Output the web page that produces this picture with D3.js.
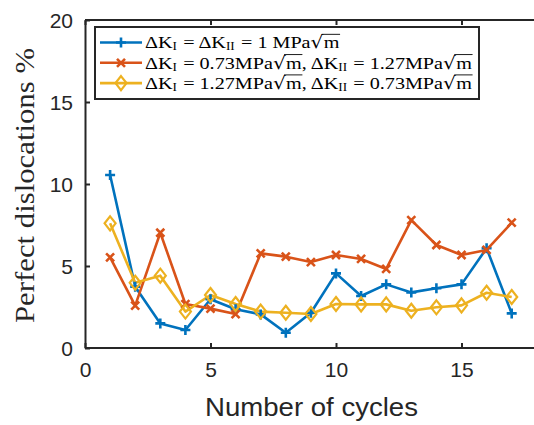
<!DOCTYPE html>
<html><head><meta charset="utf-8">
<script src="https://cdn.jsdelivr.net/npm/d3@7"></script>
<style>body{margin:0;background:#fff}svg{display:block}</style>
</head><body>
<svg id="c" width="534" height="425"></svg>
<script>
const cycles = [1,2,3,4,5,6,7,8,9,10,11,12,13,14,15,16,17];
const equalK = [10.55,3.74,1.5,1.1,2.97,2.36,2.05,0.93,2.15,4.55,3.17,3.88,3.39,3.64,3.88,6.08,2.11];
const lowKI = [5.53,2.58,7.03,2.68,2.4,2.07,5.77,5.57,5.24,5.67,5.43,4.82,7.8,6.28,5.67,5.98,7.64];
const highKI = [7.6,3.98,4.41,2.22,3.23,2.68,2.22,2.15,2.07,2.68,2.66,2.66,2.27,2.48,2.6,3.37,3.11];
const xTicks = [0,5,10,15];
const yTicks = [0,5,10,15,20];
const colors = ["#0072BD","#D95319","#EDB120"];

const svg = d3.select("#c");
const x = d3.scaleLinear().domain([0,20]).range([85,587]);
const y = d3.scaleLinear().domain([0,20]).range([348,20]);
const axisCol = "#262626";
const tickFont = "Liberation Sans, Arial, sans-serif";

// axes
const gx = svg.append("g").attr("transform","translate(0,348)")
  .call(d3.axisBottom(x).tickValues(xTicks).tickSize(-5).tickPadding(10).tickSizeOuter(0));
const gxt = svg.append("g").attr("transform","translate(0,20)")
  .call(d3.axisTop(x).tickValues(xTicks).tickSize(-5).tickFormat("").tickSizeOuter(0));
const gy = svg.append("g").attr("transform","translate(85,0)")
  .call(d3.axisLeft(y).tickValues(yTicks).tickSize(-5).tickPadding(12).tickSizeOuter(0));
[gx,gxt,gy].forEach(g=>{
  g.select(".domain").attr("stroke",axisCol).attr("stroke-width",2);
  g.selectAll(".tick line").attr("stroke",axisCol).attr("stroke-width",2);
  g.selectAll("text").attr("fill",axisCol).style("font-family",tickFont).style("font-size","21px");
});
gx.select(".domain").attr("d","M85,0H534");
gxt.select(".domain").attr("d","M85,0H534");
gx.selectAll("text").attr("dy","0.9em");
gy.selectAll("text").attr("dy","0.36em");

// series
const series = [equalK, lowKI, highKI];
const line = d3.line().x((d,i)=>x(cycles[i])).y(d=>y(d));
series.forEach((s,k)=>{
  svg.append("path").datum(s).attr("d",line).attr("fill","none")
    .attr("stroke",colors[k]).attr("stroke-width",2.6).attr("stroke-linejoin","round");
});
function marker(g,k,cx,cy){
  const c = colors[k];
  if(k===0){
    g.append("path").attr("d",`M${cx-5},${cy}H${cx+5}M${cx},${cy-5}V${cy+5}`).attr("stroke",c).attr("stroke-width",2.6);
  } else if(k===1){
    g.append("path").attr("d",`M${cx-4},${cy-4}L${cx+4},${cy+4}M${cx-4},${cy+4}L${cx+4},${cy-4}`).attr("stroke",c).attr("stroke-width",2.6);
  } else {
    g.append("path").attr("d",`M${cx},${cy-7}L${cx+5.5},${cy}L${cx},${cy+7}L${cx-5.5},${cy}Z`).attr("stroke",c).attr("stroke-width",2.2).attr("fill","none");
  }
}
const mg = svg.append("g");
series.forEach((s,k)=>s.forEach((v,i)=>marker(mg,k,x(cycles[i]),y(v))));

// labels
svg.append("text").attr("x",311.5).attr("y",416).attr("text-anchor","middle")
  .style("font-family",tickFont).style("font-size","26px").attr("fill",axisCol)
  .attr("textLength",213).attr("lengthAdjust","spacingAndGlyphs").text("Number of cycles");
svg.append("text").attr("transform","translate(33.5,185.5) rotate(-90)").attr("text-anchor","middle")
  .style("font-family","Liberation Serif, serif").style("font-size","27px").attr("fill",axisCol)
  .attr("textLength",275).attr("lengthAdjust","spacingAndGlyphs").text("Perfect dislocations %");

// legend
const lg = svg.append("g");
lg.append("rect").attr("x",95).attr("y",27).attr("width",384).attr("height",72)
  .attr("fill","#fff").attr("stroke",axisCol).attr("stroke-width",2);
const legendRows = [
  [["ΔK"],["I","sub"],[" = ΔK"],["II","sub"],[" = 1 MPa"],["m","sqrt"]],
  [["ΔK"],["I","sub"],[" = 0.73MPa"],["m","sqrt"],[", ΔK"],["II","sub"],[" = 1.27MPa"],["m","sqrt"]],
  [["ΔK"],["I","sub"],[" = 1.27MPa"],["m","sqrt"],[", ΔK"],["II","sub"],[" = 0.73MPa"],["m","sqrt"]]
];
const serif = "Liberation Serif, serif";
const fs = 17.5;
const rowGroups = [];
legendRows.forEach((row,r)=>{
  const cy = 42.5 + r*20.3;
  lg.append("line").attr("x1",100).attr("x2",142).attr("y1",cy).attr("y2",cy)
    .attr("stroke",colors[r]).attr("stroke-width",2.6);
  marker(lg,r,121,cy);
  const rg = lg.append("g");
  rowGroups.push(rg);
  let cx = 0;
  const base = cy + 6;
  row.forEach(([t,kind])=>{
    if(kind==="sub"){
      const el = rg.append("text").attr("x",cx).attr("y",base+2).style("font-family",serif)
        .style("font-size","11.5px").attr("fill","#000").text(t);
      cx += el.node().getComputedTextLength()+1;
    } else if(kind==="sqrt"){
      const s = rg.append("text").attr("x",cx).attr("y",base).style("font-family","DejaVu Serif, serif")
        .style("font-size",fs+"px").attr("fill","#000").text("√");
      const w = s.node().getComputedTextLength();
      cx += w + 0.3;
      const m = rg.append("text").attr("x",cx).attr("y",base).style("font-family",serif)
        .style("font-size",fs+"px").attr("fill","#000").text(t);
      const mw = m.node().getComputedTextLength();
      rg.append("line").attr("x1",cx-1.8).attr("x2",cx+mw+0.5).attr("y1",base-14.2).attr("y2",base-14.2)
        .attr("stroke","#000").attr("stroke-width",0.9);
      cx += mw;
    } else {
      const el = rg.append("text").attr("x",cx).attr("y",base).style("font-family",serif)
        .style("font-size",fs+"px").attr("fill","#000").attr("xml:space","preserve").style("white-space","pre").text(t);
      cx += el.node().getComputedTextLength();
    }
  });
  rg.attr("data-w",cx);
});
const natural = +rowGroups[1].attr("data-w");
const sx = 327/natural;
rowGroups.forEach(rg=>rg.attr("transform",`translate(145,0) scale(${sx},1)`));
</script>
</body></html>
